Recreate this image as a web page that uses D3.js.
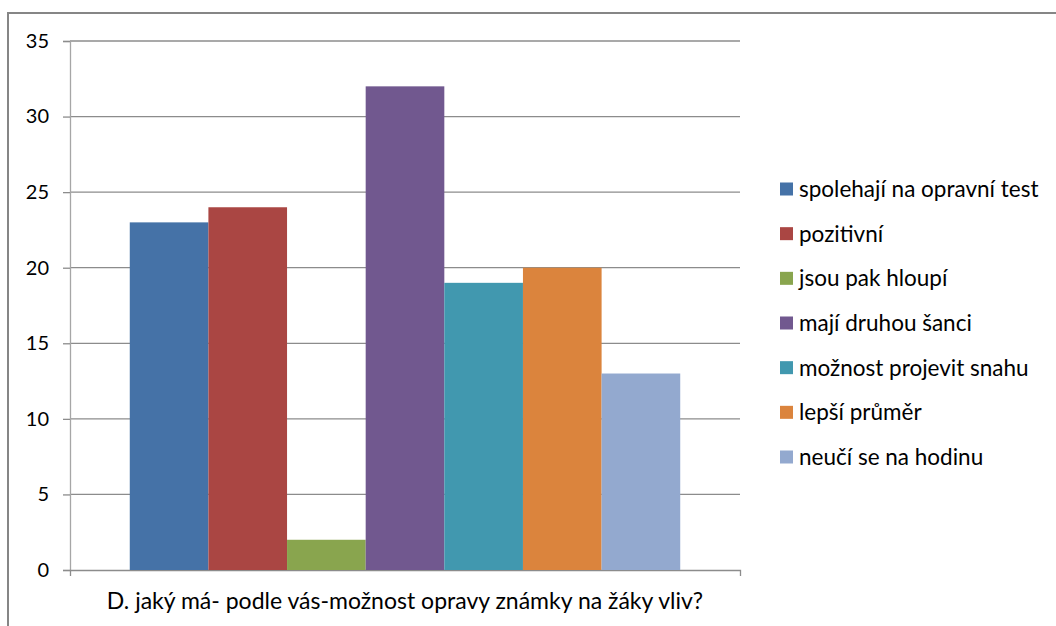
<!DOCTYPE html>
<html><head><meta charset="utf-8">
<script src="https://cdn.jsdelivr.net/npm/d3@7"></script>
<style>
html,body{margin:0;padding:0;background:#fff;}
svg text{font-family:Lato,"Open Sans",sans-serif;fill:#000;}
</style></head>
<body>
<svg id="chart" width="1056" height="626"></svg>
<script>
const categoryLabel = "D. jaký má- podle vás-možnost opravy známky na žáky vliv?";
const seriesNames = ["spolehají na opravní test","pozitivní","jsou pak hloupí","mají druhou šanci","možnost projevit snahu","lepší průměr","neučí se na hodinu"];
const seriesValues = [23, 24, 2, 32, 19, 20, 13];
const seriesColors = ["#4572A7","#AA4643","#89A54E","#71588F","#4198AF","#DB843D","#93A9CF"];
const yTicks = [0,5,10,15,20,25,30,35];

const svg = d3.select("#chart");
// outer chart border
svg.append("rect").attr("x",8).attr("y",13).attr("width",1060).attr("height",640)
  .attr("fill","#fff").attr("stroke","#868686").attr("stroke-width",2);

const plotL=70, plotR=740, plotT=41, plotB=570;
const y = d3.scaleLinear().domain([0,35]).range([plotB, plotT]);
const x = d3.scaleBand().domain(seriesNames).range([plotL,plotR]).paddingInner(0).paddingOuter(0.76);

// gridlines
svg.append("g").selectAll("line").data(yTicks.filter(d=>d>0)).join("line")
  .attr("x1",plotL).attr("x2",plotR).attr("y1",d=>y(d)).attr("y2",d=>y(d))
  .attr("stroke","#8c8c8c").attr("stroke-width",1.3);

// y axis
const yAxis = d3.axisLeft(y).tickValues(yTicks).tickSize(7).tickPadding(14).tickFormat(d3.format("d"));
const gy = svg.append("g").attr("transform",`translate(${plotL},0)`).call(yAxis);
gy.select(".domain").attr("stroke","#a6a6a6").attr("stroke-width",1.3);
gy.selectAll(".tick line").attr("stroke","#8c8c8c").attr("stroke-width",1.3);
gy.selectAll(".tick text").style("font-size","20px").attr("fill","#000");

// x axis (bottom)
const xOuter = d3.scaleBand().domain([categoryLabel]).range([plotL,plotR]);
const xAxis = d3.axisBottom(xOuter).tickSizeInner(0).tickSizeOuter(6).tickPadding(25);
const gx = svg.append("g").attr("transform",`translate(0,${plotB})`).call(xAxis);
gx.select(".domain").attr("stroke","#8c8c8c").attr("stroke-width",1.3);
gx.selectAll(".tick line").remove();
gx.selectAll(".tick text").style("font-size","23px").attr("fill","#000").attr("dy","0.6em");

// bars
svg.append("g").selectAll("rect").data(seriesNames).join("rect")
  .attr("x",d=>x(d)).attr("width",x.bandwidth())
  .attr("y",(d,i)=>y(seriesValues[i])).attr("height",(d,i)=>plotB - y(seriesValues[i]))
  .attr("fill",(d,i)=>seriesColors[i]);

// legend
const legY = d3.scalePoint().domain(seriesNames).range([189,457]);
const leg = svg.append("g").selectAll("g").data(seriesNames).join("g")
  .attr("transform",d=>`translate(780,${legY(d)})`);
leg.append("rect").attr("x",0).attr("y",-6.5).attr("width",13).attr("height",13)
  .attr("fill",(d,i)=>seriesColors[i]);
leg.append("text").attr("x",19).attr("y",0).attr("dy","0.35em")
  .style("font-size","22.5px").text(d=>d);
</script>
</body></html>
